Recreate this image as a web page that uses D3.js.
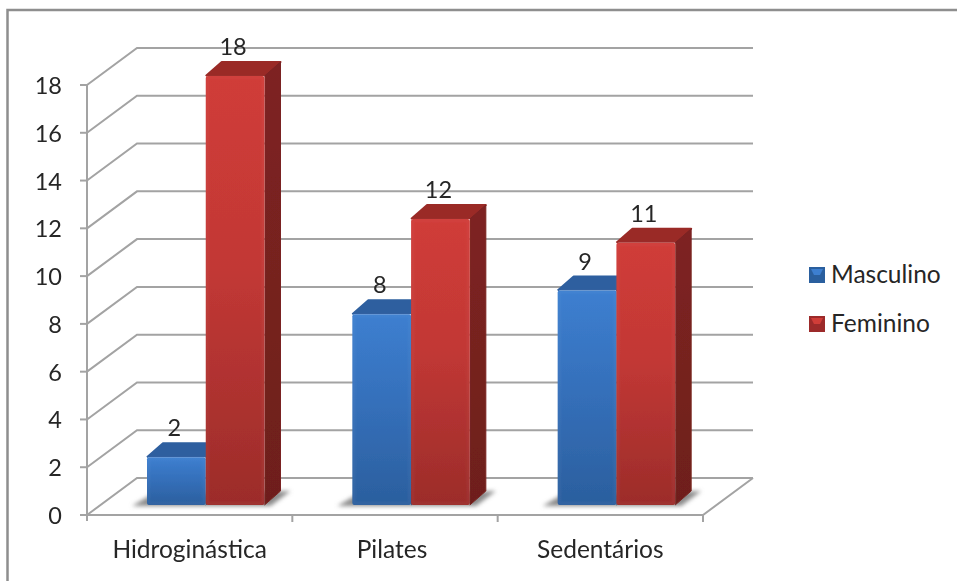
<!DOCTYPE html>
<html>
<head>
<meta charset="utf-8">
<script src="https://cdnjs.cloudflare.com/ajax/libs/d3/7.8.5/d3.min.js"></script>
<style>
html,body{margin:0;padding:0;background:#fff;overflow:hidden}
svg{display:block}
text{font-family:Lato,"Open Sans",sans-serif;fill:#262626}
</style>
</head>
<body>
<svg id="chart" width="957" height="581"></svg>
<script>
const categories = ["Hidroginástica", "Pilates", "Sedentários"];
const seriesNames = ["Masculino", "Feminino"];
const masculino = [2, 8, 9];
const feminino = [18, 12, 11];
const yTicks = [0, 2, 4, 6, 8, 10, 12, 14, 16, 18];

const svg = d3.select("#chart");
const defs = svg.append("defs");

// Front-plane frame of the 3D plot and its receding depth
const yAxisScale = d3.scaleLinear().domain([0, 18]).range([515, 85]);
const xAxisScale = d3.scaleBand().domain(categories).range([87, 703]);
const wallDx = 50, wallDy = -37;

// Bars stand slightly behind the front edge of the floor
const barBase = 505;
const barScale = d3.scaleLinear().domain([0, 18]).range([barBase, 76]);
const inner = d3.scaleBand().domain(seriesNames).range([60, 177.5]);
const barDx = 16, barDy = -14;

const palette = {
  Masculino: {light: "#3d7fd0", mid: "#3570bb", dark: "#2b5f9e", top: "#2f5f9f", side: "#264f85"},
  Feminino: {light: "#d03c38", mid: "#c23835", dark: "#9c2c2a", top: "#9a2b28", side: "#7a2320"}
};

seriesNames.forEach(name => {
  const c = palette[name];
  const g = defs.append("linearGradient")
    .attr("id", "face-" + name).attr("x1", 0).attr("y1", 0).attr("x2", 0).attr("y2", 1);
  g.append("stop").attr("offset", "0%").attr("stop-color", c.light);
  g.append("stop").attr("offset", "45%").attr("stop-color", c.mid);
  g.append("stop").attr("offset", "100%").attr("stop-color", c.dark);
  const s = defs.append("linearGradient")
    .attr("id", "side-" + name).attr("x1", 0).attr("y1", 0).attr("x2", 0).attr("y2", 1);
  s.append("stop").attr("offset", "0%").attr("stop-color", d3.color(c.side).brighter(0.1));
  s.append("stop").attr("offset", "100%").attr("stop-color", d3.color(c.side).darker(0.3));
});
defs.append("filter").attr("id", "soft").attr("x", "-10%").attr("y", "-10%").attr("width", "120%").attr("height", "120%")
  .append("feGaussianBlur").attr("stdDeviation", 0.45);
defs.append("filter").attr("id", "shade").attr("x", "-30%").attr("y", "-60%").attr("width", "160%").attr("height", "220%")
  .append("feGaussianBlur").attr("stdDeviation", 2.2);
defs.append("filter").attr("id", "edge").attr("x", "-10%").attr("y", "-10%").attr("width", "120%").attr("height", "120%")
  .append("feGaussianBlur").attr("stdDeviation", 0.8);

// Chart border: only the top and left edges are visible
svg.append("path")
  .attr("d", d3.line()([[7.5, 581], [7.5, 10], [957, 10]]))
  .attr("fill", "none").attr("stroke", "#8e8e8e").attr("stroke-width", 2.5);

const plot = svg.append("g").attr("filter", "url(#soft)");
const gridColor = "#a3a3a3";

// Gridlines along the back wall and the side wall
const grid = plot.append("g").attr("fill", "none").attr("stroke", gridColor).attr("stroke-width", 2);
const [x0, x1] = xAxisScale.range();
grid.selectAll("path.wall").data(yTicks).join("path").attr("class", "wall")
  .attr("d", d => d3.line()([
    [x0, yAxisScale(d)],
    [x0 + wallDx, yAxisScale(d) + wallDy],
    [x1 + wallDx, yAxisScale(d) + wallDy]
  ]));
// Floor outline
grid.append("path").attr("d", d3.line()([
  [x0, yAxisScale(0)], [x1, yAxisScale(0)], [x1 + wallDx, yAxisScale(0) + wallDy]
]));
// Vertical axis with its outward ticks
grid.append("path").attr("d", d3.line()([[x0, yAxisScale(18)], [x0, yAxisScale(0) + 6]]));
grid.selectAll("path.ytick").data(yTicks).join("path").attr("class", "ytick")
  .attr("d", d => d3.line()([[x0 - 7, yAxisScale(d)], [x0, yAxisScale(d)]]));
// Category ticks under the floor
const xTickPositions = categories.map(c => xAxisScale(c) + xAxisScale.bandwidth());
grid.selectAll("path.xtick").data(xTickPositions).join("path").attr("class", "xtick")
  .attr("d", d => d3.line()([[d, yAxisScale(0)], [d, yAxisScale(0) + 7]]));

const rows = categories.flatMap((c, i) => [
  {category: c, name: "Masculino", value: masculino[i]},
  {category: c, name: "Feminino", value: feminino[i]}
]);
const barX = d => xAxisScale(d.category) + inner(d.name);
const w = inner.bandwidth();

// Soft floor shadows, one behind each cluster
const shadows = svg.append("g").attr("filter", "url(#shade)");
categories.forEach(c => {
  const left = xAxisScale(c) + inner("Masculino");
  const right = xAxisScale(c) + inner("Feminino") + w;
  shadows.append("path")
    .attr("d", d3.line()([
      [left - 15, barBase + 1], [left + 4, barBase - 10], [right + barDx + 10, barBase - 14],
      [right + 6, barBase + 1]
    ]))
    .attr("fill", "#8a8a8a");
});

// Extruded bars: top, side, then front, drawn left to right
const bars = svg.append("g").attr("filter", "url(#soft)")
  .selectAll("g.bar").data(rows).join("g").attr("class", "bar");
bars.append("path")
  .attr("d", d => {
    const x = barX(d), y = barScale(d.value);
    return d3.line()([[x, y], [x + barDx, y + barDy], [x + w + barDx, y + barDy], [x + w, y]]);
  })
  .attr("fill", d => palette[d.name].top)
  .attr("stroke", d => palette[d.name].top).attr("stroke-width", 2).attr("stroke-linejoin", "round");
bars.append("path")
  .attr("d", d => {
    const x = barX(d) + w, y = barScale(d.value);
    return d3.line()([[x, y], [x + barDx, y + barDy], [x + barDx, barBase + barDy], [x, barBase]]);
  })
  .attr("fill", d => `url(#side-${d.name})`)
  .attr("stroke", d => palette[d.name].side).attr("stroke-width", 1).attr("stroke-linejoin", "round");
bars.append("rect")
  .attr("x", d => barX(d))
  .attr("y", d => barScale(d.value))
  .attr("width", w)
  .attr("height", d => barBase - barScale(d.value))
  .attr("rx", 2)
  .attr("fill", d => `url(#face-${d.name})`);
// Bevel highlight round each front face
bars.append("rect")
  .attr("x", d => barX(d) + 1.5)
  .attr("y", d => barScale(d.value) + 1.5)
  .attr("width", w - 3)
  .attr("height", d => barBase - barScale(d.value) - 3)
  .attr("fill", "none")
  .attr("stroke", "#ffffff").attr("stroke-opacity", 0.05).attr("stroke-width", 2)
  .attr("filter", "url(#edge)");

// Value labels above the bars
svg.append("g").selectAll("text").data(rows).join("text")
  .attr("x", d => barX(d) + w / 2 - 2)
  .attr("y", d => barScale(d.value) + barDy - 7)
  .attr("text-anchor", "middle")
  .attr("font-size", 23.5)
  .text(d => d.value);

// Axis labels
svg.append("g").selectAll("text").data(yTicks).join("text")
  .attr("x", 62).attr("y", d => yAxisScale(d) + 9)
  .attr("text-anchor", "end").attr("font-size", 23.5)
  .text(d => d);
svg.append("g").selectAll("text").data(categories).join("text")
  .attr("x", (c, i) => xAxisScale(c) + xAxisScale.bandwidth() / 2 - (i === 1 ? 3 : 0))
  .attr("y", 558).attr("text-anchor", "middle").attr("font-size", 24.5)
  .text(c => c);

// Legend
const legendY = d3.scalePoint().domain(seriesNames).range([275, 324]);
const legend = svg.append("g").selectAll("g").data(seriesNames).join("g")
  .attr("transform", d => `translate(809,${legendY(d)})`);
legend.append("rect")
  .attr("x", 0).attr("y", -8).attr("width", 16).attr("height", 16)
  .attr("fill", d => palette[d].dark).attr("filter", "url(#soft)");
legend.append("path")
  .attr("d", d3.line()([[2, -6], [14, -6], [11, 0], [5, 0]]))
  .attr("fill", d => palette[d].light).attr("filter", "url(#soft)");
legend.append("text")
  .attr("x", 22).attr("y", 7.5).attr("font-size", 24.5)
  .text(d => d);
</script>
</body>
</html>
